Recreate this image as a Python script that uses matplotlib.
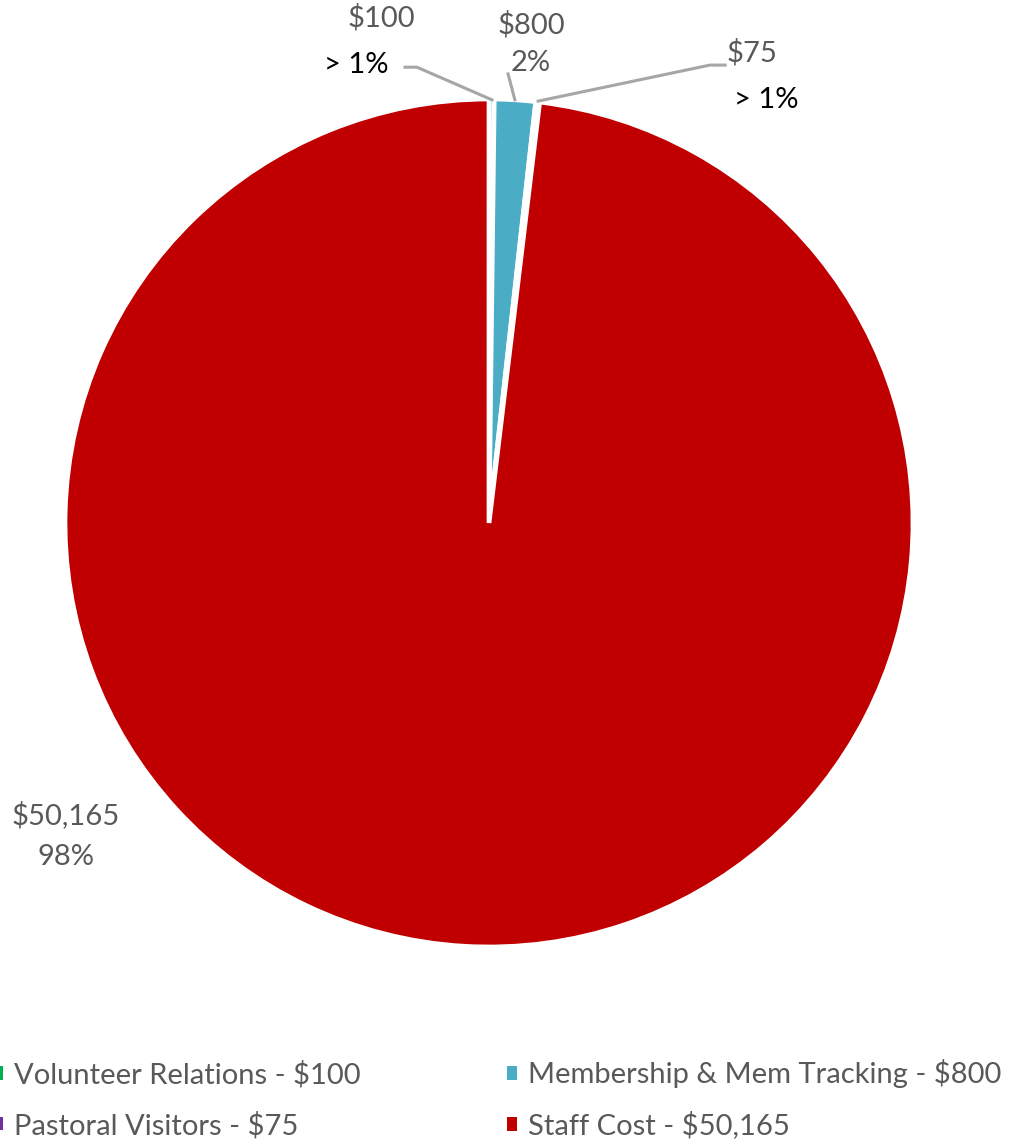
import matplotlib.pyplot as plt
from matplotlib.patches import Patch

# budget lines (in pie order, clockwise from 12 o'clock)
labels = ['Volunteer Relations', 'Membership & Mem Tracking', 'Pastoral Visitors', 'Staff Cost']
amounts = [100, 800, 75, 50165]
colors = ['#00B050', '#4BACC6', '#7030A0', '#C00000']

# data label anchors (pie radius = 1): amount line and percent line
value_xy = [(-0.255, 1.192), (0.099, 1.175), (0.620, 1.108), (-0.998, -0.689)]
pct_xy = [(-0.314, 1.080), (0.099, 1.085), (0.653, 0.998), (-0.998, -0.788)]
pct_color = ['black', '#595959', 'black', '#595959']

plt.rcParams['font.family'] = ['Lato', 'DejaVu Sans']
fig = plt.figure(figsize=(10.09, 11.44), dpi=100)
ax = fig.add_axes([65 / 1009, 197 / 1144, 848 / 1009, 848 / 1144])

ax.pie(amounts, colors=colors, startangle=90, counterclock=False, radius=1,
       wedgeprops=dict(edgecolor='white', linewidth=3.4))
ax.set_xlim(-1, 1)
ax.set_ylim(-1, 1)
ax.set_aspect('auto')
ax.axis('off')

total = sum(amounts)
gray = '#595959'
fs = 21
for i, amt in enumerate(amounts):
    pct = amt / total * 100
    pct_txt = '> 1%' if pct < 1 else f'{pct:.0f}%'
    ax.text(*value_xy[i], f'${amt:,}', ha='center', va='center',
            fontsize=fs, color=gray, clip_on=False)
    ax.text(*pct_xy[i], pct_txt, ha='center', va='center',
            fontsize=fs, color=pct_color[i], clip_on=False)

# leader lines for the thin slices at the top
lc = '#A6A6A6'
ax.plot([-0.198, -0.170, 0.007], [1.075, 1.075, 0.998], color=lc, lw=2.2, clip_on=False)
ax.plot([0.045, 0.061], [1.059, 0.998], color=lc, lw=2.2, clip_on=False)
ax.plot([0.557, 0.521, 0.116], [1.08, 1.08, 0.995], color=lc, lw=2.2, clip_on=False)

# legend, column-major: Volunteer, Pastoral | Membership, Staff
order = [0, 2, 1, 3]
handles = [Patch(facecolor=colors[i], edgecolor='none', label=f'{labels[i]} - ${amounts[i]:,}')
           for i in order]
fig.legend(handles=handles, ncol=2, loc='lower left', bbox_to_anchor=(-0.033, -0.019),
           frameon=False, fontsize=fs, labelcolor=gray, handlelength=0.35, handleheight=0.35,
           handletextpad=0.38, columnspacing=5.0, labelspacing=0.8)

fig.savefig('out.png', dpi=100, facecolor='white')
